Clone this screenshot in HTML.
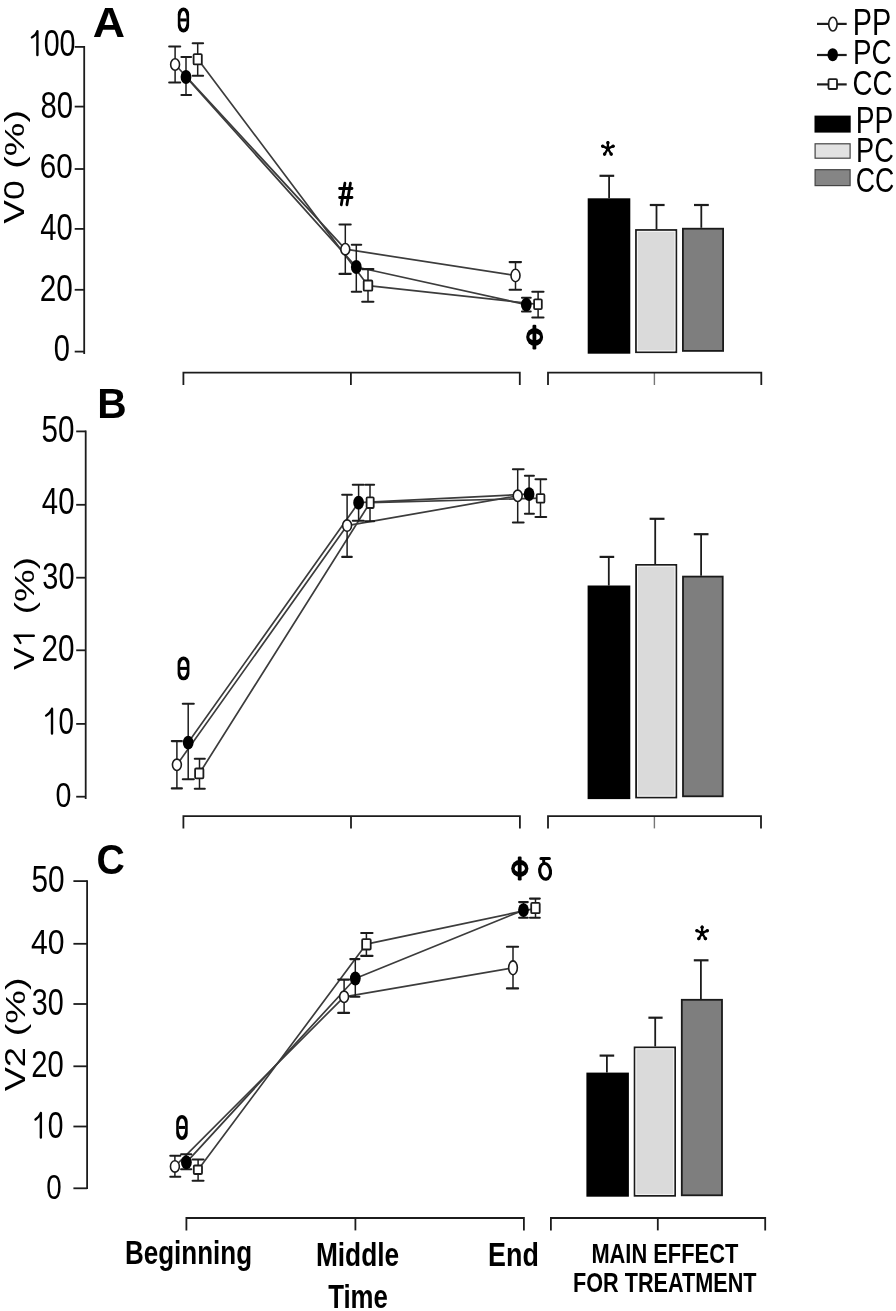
<!DOCTYPE html>
<html><head><meta charset="utf-8"><title>Figure</title>
<style>
html,body{margin:0;padding:0;background:#fff;}
body{width:896px;height:1311px;overflow:hidden;}
svg{display:block;font-family:"Liberation Sans",sans-serif;}
</style></head>
<body>
<svg width="896" height="1311" viewBox="0 0 896 1311">
<rect width="896" height="1311" fill="#fff"/>
<line x1="84.2" y1="46.0" x2="84.2" y2="354" stroke="#1c1c1c" stroke-width="1.8" stroke-linecap="butt"/>
<line x1="74.7" y1="46.9" x2="84.2" y2="46.9" stroke="#1c1c1c" stroke-width="1.8" stroke-linecap="butt"/>
<line x1="74.7" y1="106.6" x2="84.2" y2="106.6" stroke="#1c1c1c" stroke-width="1.8" stroke-linecap="butt"/>
<line x1="74.7" y1="169" x2="84.2" y2="169" stroke="#1c1c1c" stroke-width="1.8" stroke-linecap="butt"/>
<line x1="74.7" y1="228.9" x2="84.2" y2="228.9" stroke="#1c1c1c" stroke-width="1.8" stroke-linecap="butt"/>
<line x1="74.7" y1="289.8" x2="84.2" y2="289.8" stroke="#1c1c1c" stroke-width="1.8" stroke-linecap="butt"/>
<line x1="74.7" y1="351.6" x2="84.2" y2="351.6" stroke="#1c1c1c" stroke-width="1.8" stroke-linecap="butt"/>
<line x1="350.9" y1="372.7" x2="350.9" y2="385" stroke="#1c1c1c" stroke-width="1.8" stroke-linecap="butt"/>
<path d="M183.4,385 V372.7 H519.8 V385" fill="none" stroke="#1c1c1c" stroke-width="1.8" stroke-linejoin="miter"/>
<line x1="654.4" y1="372.7" x2="654.4" y2="385" stroke="#777" stroke-width="1.4" stroke-linecap="butt"/>
<path d="M548,385 V372.7 H761.3 V385" fill="none" stroke="#1c1c1c" stroke-width="1.8" stroke-linejoin="miter"/>
<path d="M175.1,64.5 L345.3,249.2 L515.5,275.5" fill="none" stroke="#3c3c3c" stroke-width="1.7" stroke-linejoin="round"/>
<path d="M186,77 L356.3,267 L526.3,304.6" fill="none" stroke="#3c3c3c" stroke-width="1.7" stroke-linejoin="round"/>
<path d="M197.7,59 L368,285.6 L538.1,304.3" fill="none" stroke="#3c3c3c" stroke-width="1.7" stroke-linejoin="round"/>
<line x1="175.1" y1="46.5" x2="175.1" y2="82.5" stroke="#1c1c1c" stroke-width="1.5" stroke-linecap="butt"/>
<line x1="169.20000000000002" y1="46.5" x2="180.2" y2="46.5" stroke="#1c1c1c" stroke-width="2.1" stroke-linecap="round"/>
<line x1="169.20000000000002" y1="82.5" x2="180.2" y2="82.5" stroke="#1c1c1c" stroke-width="2.1" stroke-linecap="round"/>
<line x1="186" y1="57" x2="186" y2="95" stroke="#1c1c1c" stroke-width="1.5" stroke-linecap="butt"/>
<line x1="181.4" y1="57" x2="191.1" y2="57" stroke="#1c1c1c" stroke-width="2.1" stroke-linecap="round"/>
<line x1="181.4" y1="95" x2="191.1" y2="95" stroke="#1c1c1c" stroke-width="2.1" stroke-linecap="round"/>
<line x1="197.7" y1="43.2" x2="197.7" y2="75.7" stroke="#1c1c1c" stroke-width="1.5" stroke-linecap="butt"/>
<line x1="192.70000000000002" y1="43.2" x2="203.1" y2="43.2" stroke="#1c1c1c" stroke-width="2.1" stroke-linecap="round"/>
<line x1="192.70000000000002" y1="75.7" x2="203.1" y2="75.7" stroke="#1c1c1c" stroke-width="2.1" stroke-linecap="round"/>
<line x1="345.3" y1="224.5" x2="345.3" y2="273.9" stroke="#1c1c1c" stroke-width="1.5" stroke-linecap="butt"/>
<line x1="339.5" y1="224.5" x2="350.7" y2="224.5" stroke="#1c1c1c" stroke-width="2.1" stroke-linecap="round"/>
<line x1="339.5" y1="273.9" x2="350.7" y2="273.9" stroke="#1c1c1c" stroke-width="2.1" stroke-linecap="round"/>
<line x1="356.3" y1="244.8" x2="356.3" y2="291.8" stroke="#1c1c1c" stroke-width="1.5" stroke-linecap="butt"/>
<line x1="351.8" y1="244.8" x2="361.2" y2="244.8" stroke="#1c1c1c" stroke-width="2.1" stroke-linecap="round"/>
<line x1="351.8" y1="291.8" x2="361.2" y2="291.8" stroke="#1c1c1c" stroke-width="2.1" stroke-linecap="round"/>
<line x1="368" y1="269.1" x2="368" y2="301.8" stroke="#1c1c1c" stroke-width="1.5" stroke-linecap="butt"/>
<line x1="362.2" y1="269.1" x2="373.4" y2="269.1" stroke="#1c1c1c" stroke-width="2.1" stroke-linecap="round"/>
<line x1="362.2" y1="301.8" x2="373.4" y2="301.8" stroke="#1c1c1c" stroke-width="2.1" stroke-linecap="round"/>
<line x1="515.5" y1="262.1" x2="515.5" y2="289.8" stroke="#1c1c1c" stroke-width="1.5" stroke-linecap="butt"/>
<line x1="509.6" y1="262.1" x2="521.0" y2="262.1" stroke="#1c1c1c" stroke-width="2.1" stroke-linecap="round"/>
<line x1="509.6" y1="289.8" x2="521.0" y2="289.8" stroke="#1c1c1c" stroke-width="2.1" stroke-linecap="round"/>
<line x1="526.3" y1="297.8" x2="526.3" y2="311.5" stroke="#1c1c1c" stroke-width="1.5" stroke-linecap="butt"/>
<line x1="522.0" y1="297.8" x2="530.7" y2="297.8" stroke="#1c1c1c" stroke-width="2.1" stroke-linecap="round"/>
<line x1="522.0" y1="311.5" x2="530.7" y2="311.5" stroke="#1c1c1c" stroke-width="2.1" stroke-linecap="round"/>
<line x1="538.1" y1="291.7" x2="538.1" y2="317.5" stroke="#1c1c1c" stroke-width="1.5" stroke-linecap="butt"/>
<line x1="532.3" y1="291.7" x2="543.5" y2="291.7" stroke="#1c1c1c" stroke-width="2.1" stroke-linecap="round"/>
<line x1="532.3" y1="317.5" x2="543.5" y2="317.5" stroke="#1c1c1c" stroke-width="2.1" stroke-linecap="round"/>
<ellipse cx="175.1" cy="64.5" rx="4.45" ry="5.70" fill="#fff" stroke="#1c1c1c" stroke-width="1.6"/>
<ellipse cx="186" cy="77" rx="5.40" ry="6.90" fill="#000"/>
<rect x="193.60" y="54.10" width="8.20" height="10.30" rx="1" fill="#fff" stroke="#1c1c1c" stroke-width="1.8"/>
<ellipse cx="345.3" cy="249.2" rx="4.45" ry="5.70" fill="#fff" stroke="#1c1c1c" stroke-width="1.6"/>
<ellipse cx="356.3" cy="267" rx="5.40" ry="6.90" fill="#000"/>
<rect x="363.70" y="280.50" width="8.60" height="10.20" rx="1" fill="#fff" stroke="#1c1c1c" stroke-width="1.8"/>
<ellipse cx="515.5" cy="275.5" rx="4.50" ry="6.20" fill="#fff" stroke="#1c1c1c" stroke-width="1.6"/>
<ellipse cx="526.3" cy="304.6" rx="5.40" ry="6.90" fill="#000"/>
<rect x="534.10" y="299.30" width="7.70" height="9.80" rx="1" fill="#fff" stroke="#1c1c1c" stroke-width="1.8"/>
<line x1="609.1" y1="175.8" x2="609.1" y2="198.3" stroke="#1c1c1c" stroke-width="1.8" stroke-linecap="butt"/>
<line x1="599.5" y1="175.8" x2="614.2" y2="175.8" stroke="#1c1c1c" stroke-width="2.2" stroke-linecap="butt"/>
<rect x="587.7" y="198.3" width="42.60" height="155.40" fill="#000"/>
<line x1="656.5" y1="205" x2="656.5" y2="229.1" stroke="#1c1c1c" stroke-width="1.8" stroke-linecap="butt"/>
<line x1="649.8" y1="205" x2="664.6" y2="205" stroke="#1c1c1c" stroke-width="2.2" stroke-linecap="butt"/>
<rect x="636.00" y="230.00" width="40.30" height="122.20" fill="#dadada" stroke="#1a1a1a" stroke-width="1.8"/>
<rect x="637.40" y="231.40" width="37.50" height="119.40" fill="none" stroke="#f4f4f4" stroke-width="1"/>
<line x1="701.3" y1="205" x2="701.3" y2="227.8" stroke="#1c1c1c" stroke-width="1.8" stroke-linecap="butt"/>
<line x1="694" y1="205" x2="708.8" y2="205" stroke="#1c1c1c" stroke-width="2.2" stroke-linecap="butt"/>
<rect x="682.90" y="228.70" width="40.20" height="122.20" fill="#7e7e7e" stroke="#1a1a1a" stroke-width="1.8"/>
<line x1="85.7" y1="430.5" x2="85.7" y2="799" stroke="#1c1c1c" stroke-width="1.8" stroke-linecap="butt"/>
<line x1="76.2" y1="431.4" x2="85.7" y2="431.4" stroke="#1c1c1c" stroke-width="1.8" stroke-linecap="butt"/>
<line x1="76.2" y1="504.8" x2="85.7" y2="504.8" stroke="#1c1c1c" stroke-width="1.8" stroke-linecap="butt"/>
<line x1="76.2" y1="577.7" x2="85.7" y2="577.7" stroke="#1c1c1c" stroke-width="1.8" stroke-linecap="butt"/>
<line x1="76.2" y1="650.3" x2="85.7" y2="650.3" stroke="#1c1c1c" stroke-width="1.8" stroke-linecap="butt"/>
<line x1="76.2" y1="723.9" x2="85.7" y2="723.9" stroke="#1c1c1c" stroke-width="1.8" stroke-linecap="butt"/>
<line x1="76.2" y1="796.7" x2="85.7" y2="796.7" stroke="#1c1c1c" stroke-width="1.8" stroke-linecap="butt"/>
<line x1="351" y1="816.1" x2="351" y2="828.4" stroke="#1c1c1c" stroke-width="1.8" stroke-linecap="butt"/>
<path d="M183.4,828.4 V816.1 H519.9 V828.4" fill="none" stroke="#1c1c1c" stroke-width="1.8" stroke-linejoin="miter"/>
<line x1="654.4" y1="816.1" x2="654.4" y2="828.4" stroke="#777" stroke-width="1.4" stroke-linecap="butt"/>
<path d="M548,828.4 V816.1 H761 V828.4" fill="none" stroke="#1c1c1c" stroke-width="1.8" stroke-linejoin="miter"/>
<path d="M176.9,764.8 L347.1,525.6 L517.7,495.8" fill="none" stroke="#3c3c3c" stroke-width="1.7" stroke-linejoin="round"/>
<path d="M188.2,742.6 L358.6,502.7 L529.1,494.1" fill="none" stroke="#3c3c3c" stroke-width="1.7" stroke-linejoin="round"/>
<path d="M199.5,773.3 L370,502.7 L540.5,498.2" fill="none" stroke="#3c3c3c" stroke-width="1.7" stroke-linejoin="round"/>
<line x1="176.9" y1="741.1" x2="176.9" y2="788.4" stroke="#1c1c1c" stroke-width="1.5" stroke-linecap="butt"/>
<line x1="171.8" y1="741.1" x2="181.89999999999998" y2="741.1" stroke="#1c1c1c" stroke-width="2.1" stroke-linecap="round"/>
<line x1="171.8" y1="788.4" x2="181.89999999999998" y2="788.4" stroke="#1c1c1c" stroke-width="2.1" stroke-linecap="round"/>
<line x1="188.2" y1="703.7" x2="188.2" y2="779.2" stroke="#1c1c1c" stroke-width="1.5" stroke-linecap="butt"/>
<line x1="182.8" y1="703.7" x2="193.79999999999998" y2="703.7" stroke="#1c1c1c" stroke-width="2.1" stroke-linecap="round"/>
<line x1="182.8" y1="779.2" x2="193.79999999999998" y2="779.2" stroke="#1c1c1c" stroke-width="2.1" stroke-linecap="round"/>
<line x1="199.5" y1="758.7" x2="199.5" y2="788.7" stroke="#1c1c1c" stroke-width="1.5" stroke-linecap="butt"/>
<line x1="194.8" y1="758.7" x2="204.79999999999998" y2="758.7" stroke="#1c1c1c" stroke-width="2.1" stroke-linecap="round"/>
<line x1="194.8" y1="788.7" x2="204.79999999999998" y2="788.7" stroke="#1c1c1c" stroke-width="2.1" stroke-linecap="round"/>
<line x1="347.1" y1="494.8" x2="347.1" y2="556.9" stroke="#1c1c1c" stroke-width="1.5" stroke-linecap="butt"/>
<line x1="342.2" y1="494.8" x2="351.8" y2="494.8" stroke="#1c1c1c" stroke-width="2.1" stroke-linecap="round"/>
<line x1="342.2" y1="556.9" x2="351.8" y2="556.9" stroke="#1c1c1c" stroke-width="2.1" stroke-linecap="round"/>
<line x1="358.6" y1="484.8" x2="358.6" y2="520.7" stroke="#1c1c1c" stroke-width="1.5" stroke-linecap="butt"/>
<line x1="352.8" y1="484.8" x2="363.8" y2="484.8" stroke="#1c1c1c" stroke-width="2.1" stroke-linecap="round"/>
<line x1="352.8" y1="520.7" x2="363.8" y2="520.7" stroke="#1c1c1c" stroke-width="2.1" stroke-linecap="round"/>
<line x1="370" y1="484.8" x2="370" y2="521.2" stroke="#1c1c1c" stroke-width="1.5" stroke-linecap="butt"/>
<line x1="365.40000000000003" y1="484.8" x2="374.09999999999997" y2="484.8" stroke="#1c1c1c" stroke-width="2.1" stroke-linecap="round"/>
<line x1="365.40000000000003" y1="521.2" x2="374.09999999999997" y2="521.2" stroke="#1c1c1c" stroke-width="2.1" stroke-linecap="round"/>
<line x1="517.7" y1="469.2" x2="517.7" y2="522.5" stroke="#1c1c1c" stroke-width="1.5" stroke-linecap="butt"/>
<line x1="512.9" y1="469.2" x2="523.6" y2="469.2" stroke="#1c1c1c" stroke-width="2.1" stroke-linecap="round"/>
<line x1="512.9" y1="522.5" x2="523.6" y2="522.5" stroke="#1c1c1c" stroke-width="2.1" stroke-linecap="round"/>
<line x1="529.1" y1="475.7" x2="529.1" y2="513.8" stroke="#1c1c1c" stroke-width="1.5" stroke-linecap="butt"/>
<line x1="524.9" y1="475.7" x2="533.9000000000001" y2="475.7" stroke="#1c1c1c" stroke-width="2.1" stroke-linecap="round"/>
<line x1="524.9" y1="513.8" x2="533.9000000000001" y2="513.8" stroke="#1c1c1c" stroke-width="2.1" stroke-linecap="round"/>
<line x1="540.5" y1="479.2" x2="540.5" y2="517" stroke="#1c1c1c" stroke-width="1.5" stroke-linecap="butt"/>
<line x1="535.5" y1="479.2" x2="546.2" y2="479.2" stroke="#1c1c1c" stroke-width="2.1" stroke-linecap="round"/>
<line x1="535.5" y1="517" x2="546.2" y2="517" stroke="#1c1c1c" stroke-width="2.1" stroke-linecap="round"/>
<ellipse cx="176.9" cy="764.8" rx="4.45" ry="5.70" fill="#fff" stroke="#1c1c1c" stroke-width="1.6"/>
<ellipse cx="188.2" cy="742.6" rx="5.40" ry="6.90" fill="#000"/>
<rect x="195.10" y="768.50" width="8.30" height="9.80" rx="1" fill="#fff" stroke="#1c1c1c" stroke-width="1.8"/>
<ellipse cx="347.1" cy="525.6" rx="4.45" ry="5.70" fill="#fff" stroke="#1c1c1c" stroke-width="1.6"/>
<ellipse cx="358.6" cy="502.7" rx="5.40" ry="6.90" fill="#000"/>
<rect x="366.60" y="497.30" width="7.10" height="10.70" rx="1" fill="#fff" stroke="#1c1c1c" stroke-width="1.8"/>
<ellipse cx="517.7" cy="495.8" rx="4.45" ry="5.70" fill="#fff" stroke="#1c1c1c" stroke-width="1.6"/>
<ellipse cx="529.1" cy="494.1" rx="5.40" ry="6.90" fill="#000"/>
<rect x="536.70" y="494.20" width="7.70" height="8.50" rx="1" fill="#fff" stroke="#1c1c1c" stroke-width="1.8"/>
<line x1="608.8" y1="556.9" x2="608.8" y2="585.5" stroke="#1c1c1c" stroke-width="1.8" stroke-linecap="butt"/>
<line x1="599.6" y1="556.9" x2="614.2" y2="556.9" stroke="#1c1c1c" stroke-width="2.2" stroke-linecap="butt"/>
<rect x="587.6" y="585.5" width="42.70" height="213.60" fill="#000"/>
<line x1="655.2" y1="518.8" x2="655.2" y2="564" stroke="#1c1c1c" stroke-width="1.8" stroke-linecap="butt"/>
<line x1="649.6" y1="518.8" x2="664.5" y2="518.8" stroke="#1c1c1c" stroke-width="2.2" stroke-linecap="butt"/>
<rect x="636.10" y="564.90" width="40.20" height="232.60" fill="#dadada" stroke="#1a1a1a" stroke-width="1.8"/>
<rect x="637.50" y="566.30" width="37.40" height="229.80" fill="none" stroke="#f4f4f4" stroke-width="1"/>
<line x1="701.1" y1="534.2" x2="701.1" y2="575.7" stroke="#1c1c1c" stroke-width="1.8" stroke-linecap="butt"/>
<line x1="693.8" y1="534.2" x2="708.5" y2="534.2" stroke="#1c1c1c" stroke-width="2.2" stroke-linecap="butt"/>
<rect x="683.00" y="576.60" width="39.70" height="219.70" fill="#7e7e7e" stroke="#1a1a1a" stroke-width="1.8"/>
<line x1="87.1" y1="880.2" x2="87.1" y2="1189" stroke="#1c1c1c" stroke-width="1.8" stroke-linecap="butt"/>
<line x1="73.4" y1="881.1" x2="87.1" y2="881.1" stroke="#1c1c1c" stroke-width="1.8" stroke-linecap="butt"/>
<line x1="73.4" y1="943.8" x2="87.1" y2="943.8" stroke="#1c1c1c" stroke-width="1.8" stroke-linecap="butt"/>
<line x1="73.4" y1="1004" x2="87.1" y2="1004" stroke="#1c1c1c" stroke-width="1.8" stroke-linecap="butt"/>
<line x1="73.4" y1="1066.3" x2="87.1" y2="1066.3" stroke="#1c1c1c" stroke-width="1.8" stroke-linecap="butt"/>
<line x1="73.4" y1="1126.5" x2="87.1" y2="1126.5" stroke="#1c1c1c" stroke-width="1.8" stroke-linecap="butt"/>
<line x1="73.4" y1="1188.3" x2="87.1" y2="1188.3" stroke="#1c1c1c" stroke-width="1.8" stroke-linecap="butt"/>
<line x1="355.4" y1="1218" x2="355.4" y2="1230.4" stroke="#1c1c1c" stroke-width="1.8" stroke-linecap="butt"/>
<path d="M186.4,1230.4 V1218 H523.9 V1230.4" fill="none" stroke="#1c1c1c" stroke-width="1.8" stroke-linejoin="miter"/>
<line x1="657.8" y1="1218" x2="657.8" y2="1230.4" stroke="#1c1c1c" stroke-width="1.8" stroke-linecap="butt"/>
<path d="M550.9,1230.4 V1218 H765.2 V1230.4" fill="none" stroke="#1c1c1c" stroke-width="1.8" stroke-linejoin="miter"/>
<path d="M174.9,1166.4 L344.1,996.8 L513,967.8" fill="none" stroke="#3c3c3c" stroke-width="1.7" stroke-linejoin="round"/>
<path d="M186.4,1162.4 L355.3,978.5 L523.5,910.1" fill="none" stroke="#3c3c3c" stroke-width="1.7" stroke-linejoin="round"/>
<path d="M198.1,1169.8 L366.4,944.1 L535.5,908.4" fill="none" stroke="#3c3c3c" stroke-width="1.7" stroke-linejoin="round"/>
<line x1="174.9" y1="1155.8" x2="174.9" y2="1176.7" stroke="#1c1c1c" stroke-width="1.5" stroke-linecap="butt"/>
<line x1="170.3" y1="1155.8" x2="180.29999999999998" y2="1155.8" stroke="#1c1c1c" stroke-width="2.1" stroke-linecap="round"/>
<line x1="170.3" y1="1176.7" x2="180.29999999999998" y2="1176.7" stroke="#1c1c1c" stroke-width="2.1" stroke-linecap="round"/>
<line x1="186.4" y1="1154.3" x2="186.4" y2="1169.2" stroke="#1c1c1c" stroke-width="1.5" stroke-linecap="butt"/>
<line x1="181.10000000000002" y1="1154.3" x2="191.29999999999998" y2="1154.3" stroke="#1c1c1c" stroke-width="2.1" stroke-linecap="round"/>
<line x1="181.10000000000002" y1="1169.2" x2="191.29999999999998" y2="1169.2" stroke="#1c1c1c" stroke-width="2.1" stroke-linecap="round"/>
<line x1="198.1" y1="1159.5" x2="198.1" y2="1180.7" stroke="#1c1c1c" stroke-width="1.5" stroke-linecap="butt"/>
<line x1="192.60000000000002" y1="1159.5" x2="203.5" y2="1159.5" stroke="#1c1c1c" stroke-width="2.1" stroke-linecap="round"/>
<line x1="192.60000000000002" y1="1180.7" x2="203.5" y2="1180.7" stroke="#1c1c1c" stroke-width="2.1" stroke-linecap="round"/>
<line x1="344.1" y1="979.6" x2="344.1" y2="1012.9" stroke="#1c1c1c" stroke-width="1.5" stroke-linecap="butt"/>
<line x1="338.2" y1="979.6" x2="349.09999999999997" y2="979.6" stroke="#1c1c1c" stroke-width="2.1" stroke-linecap="round"/>
<line x1="338.2" y1="1012.9" x2="349.09999999999997" y2="1012.9" stroke="#1c1c1c" stroke-width="2.1" stroke-linecap="round"/>
<line x1="355.3" y1="959.1" x2="355.3" y2="996.8" stroke="#1c1c1c" stroke-width="1.5" stroke-linecap="butt"/>
<line x1="350.3" y1="959.1" x2="359.4" y2="959.1" stroke="#1c1c1c" stroke-width="2.1" stroke-linecap="round"/>
<line x1="350.3" y1="996.8" x2="359.4" y2="996.8" stroke="#1c1c1c" stroke-width="2.1" stroke-linecap="round"/>
<line x1="366.4" y1="933" x2="366.4" y2="955.9" stroke="#1c1c1c" stroke-width="1.5" stroke-linecap="butt"/>
<line x1="361.2" y1="933" x2="372.5" y2="933" stroke="#1c1c1c" stroke-width="2.1" stroke-linecap="round"/>
<line x1="361.2" y1="955.9" x2="372.5" y2="955.9" stroke="#1c1c1c" stroke-width="2.1" stroke-linecap="round"/>
<line x1="513" y1="946.7" x2="513" y2="988.4" stroke="#1c1c1c" stroke-width="1.5" stroke-linecap="butt"/>
<line x1="506.90000000000003" y1="946.7" x2="518.1" y2="946.7" stroke="#1c1c1c" stroke-width="2.1" stroke-linecap="round"/>
<line x1="506.90000000000003" y1="988.4" x2="518.1" y2="988.4" stroke="#1c1c1c" stroke-width="2.1" stroke-linecap="round"/>
<line x1="523.5" y1="902.1" x2="523.5" y2="917.7" stroke="#1c1c1c" stroke-width="1.5" stroke-linecap="butt"/>
<line x1="519.0999999999999" y1="902.1" x2="527.8000000000001" y2="902.1" stroke="#1c1c1c" stroke-width="2.1" stroke-linecap="round"/>
<line x1="519.0999999999999" y1="917.7" x2="527.8000000000001" y2="917.7" stroke="#1c1c1c" stroke-width="2.1" stroke-linecap="round"/>
<line x1="535.5" y1="898.6" x2="535.5" y2="917.7" stroke="#1c1c1c" stroke-width="1.5" stroke-linecap="butt"/>
<line x1="530.0" y1="898.6" x2="539.8000000000001" y2="898.6" stroke="#1c1c1c" stroke-width="2.1" stroke-linecap="round"/>
<line x1="530.0" y1="917.7" x2="539.8000000000001" y2="917.7" stroke="#1c1c1c" stroke-width="2.1" stroke-linecap="round"/>
<ellipse cx="174.9" cy="1166.4" rx="4.45" ry="5.70" fill="#fff" stroke="#1c1c1c" stroke-width="1.6"/>
<ellipse cx="186.4" cy="1162.4" rx="5.40" ry="6.90" fill="#000"/>
<rect x="193.80" y="1165.50" width="8.20" height="8.50" rx="1" fill="#fff" stroke="#1c1c1c" stroke-width="1.8"/>
<ellipse cx="344.1" cy="996.8" rx="4.45" ry="5.70" fill="#fff" stroke="#1c1c1c" stroke-width="1.6"/>
<ellipse cx="355.3" cy="978.5" rx="5.40" ry="6.90" fill="#000"/>
<rect x="362.15" y="939.20" width="8.55" height="10.30" rx="1" fill="#fff" stroke="#1c1c1c" stroke-width="1.8"/>
<ellipse cx="513" cy="967.8" rx="4.35" ry="6.90" fill="#fff" stroke="#1c1c1c" stroke-width="1.6"/>
<ellipse cx="523.5" cy="910.1" rx="5.40" ry="6.90" fill="#000"/>
<rect x="531.20" y="902.90" width="8.50" height="10.30" rx="1" fill="#fff" stroke="#1c1c1c" stroke-width="1.8"/>
<line x1="606.9" y1="1055.6" x2="606.9" y2="1072.6" stroke="#1c1c1c" stroke-width="1.8" stroke-linecap="butt"/>
<line x1="599.6" y1="1055.6" x2="614.2" y2="1055.6" stroke="#1c1c1c" stroke-width="2.2" stroke-linecap="butt"/>
<rect x="586.4" y="1072.6" width="42.50" height="124.10" fill="#000"/>
<line x1="655.2" y1="1017.7" x2="655.2" y2="1046.5" stroke="#1c1c1c" stroke-width="1.8" stroke-linecap="butt"/>
<line x1="648.4" y1="1017.7" x2="662.6" y2="1017.7" stroke="#1c1c1c" stroke-width="2.2" stroke-linecap="butt"/>
<rect x="634.60" y="1047.40" width="40.50" height="148.40" fill="#dadada" stroke="#1a1a1a" stroke-width="1.8"/>
<rect x="636.00" y="1048.80" width="37.70" height="145.60" fill="none" stroke="#f4f4f4" stroke-width="1"/>
<line x1="700.9" y1="960.3" x2="700.9" y2="998.9" stroke="#1c1c1c" stroke-width="1.8" stroke-linecap="butt"/>
<line x1="693.8" y1="960.3" x2="708.5" y2="960.3" stroke="#1c1c1c" stroke-width="2.2" stroke-linecap="butt"/>
<rect x="681.80" y="999.80" width="40.20" height="195.50" fill="#7e7e7e" stroke="#1a1a1a" stroke-width="1.8"/>
<line x1="817" y1="23.9" x2="846.7" y2="23.9" stroke="#1c1c1c" stroke-width="2.2" stroke-linecap="butt"/>
<ellipse cx="832.9" cy="24.1" rx="4.20" ry="6.90" fill="#fff" stroke="#1c1c1c" stroke-width="1.6"/>
<line x1="817" y1="55" x2="846.7" y2="55" stroke="#1c1c1c" stroke-width="2.2" stroke-linecap="butt"/>
<ellipse cx="832.7" cy="54.7" rx="5.25" ry="6.55" fill="#000"/>
<line x1="817" y1="84.4" x2="846.7" y2="84.4" stroke="#1c1c1c" stroke-width="2.2" stroke-linecap="butt"/>
<rect x="828.50" y="79.20" width="8.50" height="9.80" rx="1" fill="#fff" stroke="#1c1c1c" stroke-width="1.8"/>
<rect x="814.5" y="115.6" width="36.2" height="17" fill="#000"/>
<rect x="815.1" y="143.8" width="35" height="14.4" fill="#e2e2e2" stroke="#444" stroke-width="1.2"/>
<rect x="815.1" y="169.7" width="35" height="15.9" fill="#858585" stroke="#444" stroke-width="1.2"/>
<g style="will-change:transform">
<text transform="translate(92.68,36.60) scale(0.2235,0.2167)" font-size="200" font-weight="700" fill="#000">A</text>
<text transform="translate(97.26,418.20) scale(0.2033,0.2145)" font-size="200" font-weight="700" fill="#000">B</text>
<text transform="translate(96.53,874.27) scale(0.1962,0.2169)" font-size="200" font-weight="700" fill="#000">C</text>
<path d="M37.4,55.0 L37.4,31.2 M37.1,31.8 C36.199999999999996,34.7 34.1,35.8 31.9,37.4" fill="none" stroke="#000" stroke-width="2.4" stroke-linecap="round" stroke-linejoin="round"/>
<text transform="translate(43.65,55.74) scale(0.1432,0.1817)" font-size="200" font-weight="400" fill="#000">00</text>
<text transform="translate(40.38,117.63) scale(0.1463,0.1845)" font-size="200" font-weight="400" fill="#000">80</text>
<text transform="translate(39.76,178.14) scale(0.1488,0.1796)" font-size="200" font-weight="400" fill="#000">60</text>
<text transform="translate(40.37,240.23) scale(0.1459,0.1838)" font-size="200" font-weight="400" fill="#000">40</text>
<text transform="translate(39.76,300.54) scale(0.1488,0.1817)" font-size="200" font-weight="400" fill="#000">20</text>
<text transform="translate(53.84,361.04) scale(0.1453,0.1824)" font-size="200" font-weight="400" fill="#000">0</text>
<text transform="translate(41.62,441.94) scale(0.1481,0.1803)" font-size="200" font-weight="400" fill="#000">50</text>
<text transform="translate(41.87,514.13) scale(0.1469,0.1831)" font-size="200" font-weight="400" fill="#000">40</text>
<text transform="translate(42.34,588.63) scale(0.1447,0.1831)" font-size="200" font-weight="400" fill="#000">30</text>
<text transform="translate(41.51,661.24) scale(0.1485,0.1803)" font-size="200" font-weight="400" fill="#000">20</text>
<path d="M52,733.6 L52,708.8 M51.7,709.4 C50.8,712.3 48.300000000000004,714.0 46.1,715.6" fill="none" stroke="#000" stroke-width="2.4" stroke-linecap="round" stroke-linejoin="round"/>
<text transform="translate(58.49,734.03) scale(0.1389,0.1859)" font-size="200" font-weight="400" fill="#000">0</text>
<text transform="translate(55.55,807.04) scale(0.1432,0.1782)" font-size="200" font-weight="400" fill="#000">0</text>
<text transform="translate(31.41,892.43) scale(0.1490,0.1831)" font-size="200" font-weight="400" fill="#000">50</text>
<text transform="translate(31.05,954.35) scale(0.1507,0.1768)" font-size="200" font-weight="400" fill="#000">40</text>
<text transform="translate(31.65,1014.53) scale(0.1437,0.1838)" font-size="200" font-weight="400" fill="#000">30</text>
<text transform="translate(31.14,1077.23) scale(0.1461,0.1845)" font-size="200" font-weight="400" fill="#000">20</text>
<path d="M40.85,1137.5 L40.85,1112.9 M40.550000000000004,1113.5 C39.65,1116.4 37.7,1117.9 35.5,1119.5" fill="none" stroke="#000" stroke-width="2.4" stroke-linecap="round" stroke-linejoin="round"/>
<text transform="translate(47.87,1137.93) scale(0.1411,0.1845)" font-size="200" font-weight="400" fill="#000">0</text>
<text transform="translate(46.29,1199.35) scale(0.1389,0.1775)" font-size="200" font-weight="400" fill="#000">0</text>
<text transform="translate(23.51,223.78) rotate(-90) scale(0.1774,0.1430)" font-size="200" font-weight="400" fill="#000">V0</text>
<text transform="translate(23.51,168.77) rotate(-90) scale(0.1892,0.1380)" font-size="200" font-weight="400" fill="#000">(%)</text>
<text transform="translate(34.40,669.97) rotate(-90) scale(0.1695,0.1486)" font-size="200" font-weight="400" fill="#000">V</text>
<path d="M33.8,635.7 L14.6,635.7 M15.2,636.0 C18.1,636.9000000000001 18.799999999999997,640.6999999999999 20.4,642.9" fill="none" stroke="#000" stroke-width="2.4" stroke-linecap="round" stroke-linejoin="round"/>
<text transform="translate(33.71,614.20) rotate(-90) scale(0.1836,0.1380)" font-size="200" font-weight="400" fill="#000">(%)</text>
<text transform="translate(24.80,1091.28) rotate(-90) scale(0.1811,0.1450)" font-size="200" font-weight="400" fill="#000">V2</text>
<text transform="translate(24.51,1036.27) rotate(-90) scale(0.1892,0.1380)" font-size="200" font-weight="400" fill="#000">(%)</text>
<rect x="177.80" y="7.50" width="11.30" height="24.90" rx="5.65" ry="6.72" fill="#000"/><rect x="180.30" y="11.10" width="6.30" height="17.70" rx="3.15" ry="7.96" fill="#fff"/><rect x="180.10" y="18.45" width="6.70" height="3" fill="#000"/>
<path d="M344.90,183.20 L341.30,204.80 M350.40,183.20 L346.90,204.80 M339.60,188.50 L352.00,188.50 M339.60,197.50 L352.00,197.50" fill="none" stroke="#000" stroke-width="2.8" stroke-linecap="round"/>
<ellipse cx="534.65" cy="336.9" rx="8.45" ry="8.9" fill="#000"/><ellipse cx="534.65" cy="336.9" rx="5.3" ry="3.3" fill="#fff"/><rect x="532.50" y="324.7" width="3.8" height="24.80" rx="1.2" fill="#000"/>
<path d="M607.9,148.6 L607.90,142.20 M607.9,148.6 L602.40,146.00 M607.9,148.6 L613.40,146.00 M607.9,148.6 L604.40,154.50 M607.9,148.6 L611.40,154.50" fill="none" stroke="#000" stroke-width="2.3" stroke-linecap="round"/><circle cx="607.90" cy="142.65" r="1.75" fill="#000"/><circle cx="602.78" cy="146.18" r="1.75" fill="#000"/><circle cx="613.01" cy="146.18" r="1.75" fill="#000"/><circle cx="604.64" cy="154.09" r="1.75" fill="#000"/><circle cx="611.15" cy="154.09" r="1.75" fill="#000"/><circle cx="607.9" cy="148.6" r="2.2" fill="#000"/>
<rect x="177.60" y="656.50" width="11.80" height="23.80" rx="5.90" ry="6.43" fill="#000"/><rect x="180.10" y="660.10" width="6.80" height="16.60" rx="3.40" ry="7.47" fill="#fff"/><rect x="179.90" y="666.90" width="7.20" height="3" fill="#000"/>
<rect x="176.20" y="1114.90" width="11.50" height="25.10" rx="5.75" ry="6.78" fill="#000"/><rect x="178.70" y="1118.50" width="6.50" height="17.90" rx="3.25" ry="8.05" fill="#fff"/><rect x="178.50" y="1125.95" width="6.90" height="3" fill="#000"/>
<ellipse cx="519.8" cy="868.4" rx="8.6" ry="8.5" fill="#000"/><ellipse cx="519.8" cy="868.4" rx="5.1" ry="3.7" fill="#fff"/><rect x="517.80" y="856.5" width="3.8" height="24.00" rx="1.2" fill="#000"/>
<path d="M540.9,858.4 L549.4,858.4 M543.6,858.6 L543.8,862.8" fill="none" stroke="#000" stroke-width="3" stroke-linecap="round"/><ellipse cx="545.1" cy="871.3" rx="5.4" ry="7.9" fill="none" stroke="#000" stroke-width="3.1" transform="rotate(-8 545.1 871.3)"/>
<path d="M702.1,933.1 L702.10,926.70 M702.1,933.1 L696.60,930.50 M702.1,933.1 L707.60,930.50 M702.1,933.1 L698.60,939.00 M702.1,933.1 L705.60,939.00" fill="none" stroke="#000" stroke-width="2.3" stroke-linecap="round"/><circle cx="702.10" cy="927.15" r="1.75" fill="#000"/><circle cx="696.99" cy="930.68" r="1.75" fill="#000"/><circle cx="707.22" cy="930.68" r="1.75" fill="#000"/><circle cx="698.85" cy="938.59" r="1.75" fill="#000"/><circle cx="705.36" cy="938.59" r="1.75" fill="#000"/><circle cx="702.1" cy="933.1" r="2.2" fill="#000"/>
<text transform="translate(852.69,34.70) scale(0.1442,0.1848)" font-size="200" font-weight="400" fill="#000">PP</text>
<text transform="translate(852.97,63.95) scale(0.1391,0.1732)" font-size="200" font-weight="400" fill="#000">PC</text>
<text transform="translate(852.61,95.05) scale(0.1385,0.1768)" font-size="200" font-weight="400" fill="#000">CC</text>
<text transform="translate(855.74,133.10) scale(0.1412,0.1833)" font-size="200" font-weight="400" fill="#000">PP</text>
<text transform="translate(856.02,162.45) scale(0.1360,0.1732)" font-size="200" font-weight="400" fill="#000">PC</text>
<text transform="translate(855.87,191.55) scale(0.1333,0.1768)" font-size="200" font-weight="400" fill="#000">CC</text>
<text transform="translate(125.01,1263.65) scale(0.1300,0.1631)" font-size="200" font-weight="700" fill="#000">Beginning</text>
<text transform="translate(315.89,1266.47) scale(0.1315,0.1633)" font-size="200" font-weight="700" fill="#000">Middle</text>
<text transform="translate(488.05,1266.38) scale(0.1344,0.1619)" font-size="200" font-weight="700" fill="#000">End</text>
<text transform="translate(328.14,1308.37) scale(0.1291,0.1633)" font-size="200" font-weight="700" fill="#000">Time</text>
<text transform="translate(591.38,1263.32) scale(0.1093,0.1387)" font-size="200" font-weight="700" fill="#000">MAIN EFFECT</text>
<text transform="translate(573.09,1292.12) scale(0.1082,0.1401)" font-size="200" font-weight="700" fill="#000">FOR TREATMENT</text>
</g>
</svg>
</body></html>
